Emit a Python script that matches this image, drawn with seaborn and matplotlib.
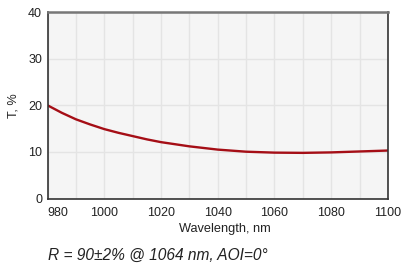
import matplotlib
matplotlib.use("Agg")
import matplotlib.pyplot as plt
import seaborn as sns
import pandas as pd

# transmission curve
wavelength = [980, 985, 990, 995, 1000, 1005, 1010, 1015, 1020, 1030, 1040, 1050, 1060, 1070, 1080, 1090, 1100]
transmission = [20.0, 18.4, 17.0, 15.9, 14.9, 14.1, 13.4, 12.7, 12.1, 11.2, 10.5, 10.05, 9.85, 9.8, 9.9, 10.1, 10.3]

x_ticks = [980, 1000, 1020, 1040, 1060, 1080, 1100]
y_ticks = [0, 10, 20, 30, 40]
caption = "R = 90±2% @ 1064 nm, AOI=0°"

df = pd.DataFrame({"wavelength": wavelength, "T": transmission})

sns.set_style("white")
plt.rcParams["font.family"] = ["Liberation Sans", "DejaVu Sans"]

fig = plt.figure(figsize=(4.07, 2.74), dpi=100)
ax = fig.add_axes([0.117, 0.2755, 0.836, 0.68])
ax.set_facecolor("#f5f5f5")

sns.lineplot(data=df, x="wavelength", y="T", ax=ax, color="#a50e16", linewidth=1.7)

ax.set_xlim(980, 1100)
ax.set_ylim(0, 40)
ax.set_xticks(x_ticks)
ax.set_xticks(range(990, 1100, 20), minor=True)
ax.set_yticks(y_ticks)
ax.grid(True, which="both", color="#e4e4e4", linewidth=1.0)
ax.set_axisbelow(True)
ax.tick_params(length=0, labelsize=9, colors="#222222")
ax.tick_params(axis="x", pad=6)
ax.tick_params(axis="y", pad=4)
ax.tick_params(which="minor", length=0)

labels = ax.get_xticklabels()
labels[0].set_horizontalalignment("left")

for side in ["left", "bottom", "right"]:
    ax.spines[side].set_color("#333333")
    ax.spines[side].set_linewidth(1.2)
ax.spines["top"].set_color("#777777")
ax.spines["top"].set_linewidth(1.8)

ax.set_xlabel("Wavelength, nm", fontsize=9.2, color="#222222", labelpad=4)
ax.xaxis.set_label_coords(0.52, -0.13)
ax.set_ylabel("T, %", fontsize=9.2, color="#222222", labelpad=6)

fig.text(0.117, 0.05, caption, fontsize=11.2, style="italic", color="#222222")

plt.savefig("out.png", dpi=100)
plt.close()
